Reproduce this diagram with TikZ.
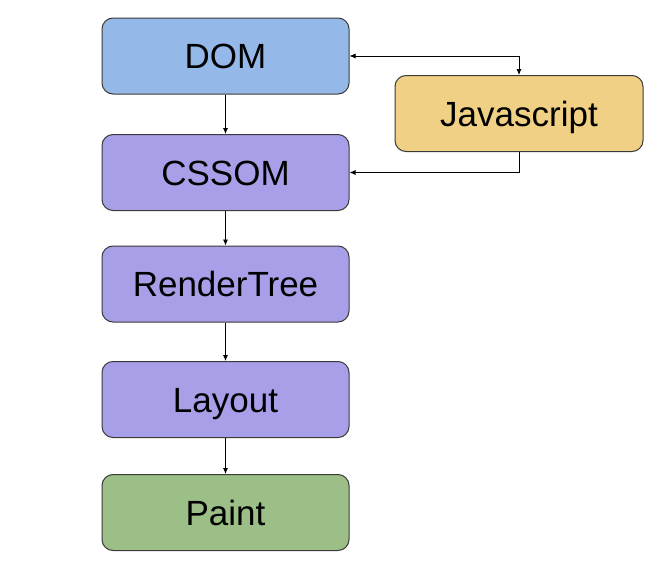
\documentclass[tikz,border=0pt]{standalone}
\usepackage{fontspec}
\setmainfont{Liberation Sans}
\usetikzlibrary{arrows.meta}
\definecolor{domblue}{HTML}{94B8E8}
\definecolor{stagepurple}{HTML}{A79FE8}
\definecolor{jsyellow}{HTML}{F0D084}
\definecolor{paintgreen}{HTML}{9BBF86}
\definecolor{edgegray}{HTML}{3A3A3A}
\tikzset{
  stage/.style={draw=edgegray, line width=1pt, rounded corners=11pt,
    minimum width=247pt, minimum height=76pt, inner sep=0pt,
    text height=25pt, text depth=0pt,
    font=\fontsize{35}{42}\selectfont, text=black},
  flow/.style={draw=black, line width=0.8pt, -{Latex[length=6pt,width=5pt]}},
  twoway/.style={draw=black, line width=0.8pt, {Latex[length=6pt,width=5pt]}-{Latex[length=6pt,width=5pt]}}
}
\begin{document}
\begin{tikzpicture}[x=1pt,y=-1pt]
\useasboundingbox (0,0) rectangle (665,581);
\node[stage, fill=domblue]      (dom)    at (225.5,56)    {DOM};
\node[stage, fill=stagepurple]  (cssom)  at (225.5,172.5) {CSSOM};
\node[stage, fill=stagepurple]  (render) at (225.5,284)   {RenderTree};
\node[stage, fill=stagepurple]  (layout) at (225.5,399.5) {Layout};
\node[stage, fill=paintgreen]   (paint)  at (225.5,512.5) {Paint};
\node[stage, fill=jsyellow, minimum width=248pt] (js) at (519,113.5) {Javascript};

\draw[flow] (dom) -- (cssom);
\draw[flow] (cssom) -- (render);
\draw[flow] (render) -- (layout);
\draw[flow] (layout) -- (paint);
\draw[twoway] (dom.east) -| (js.north);
\draw[flow] (js.south) |- (cssom.east);
\end{tikzpicture}
\end{document}
